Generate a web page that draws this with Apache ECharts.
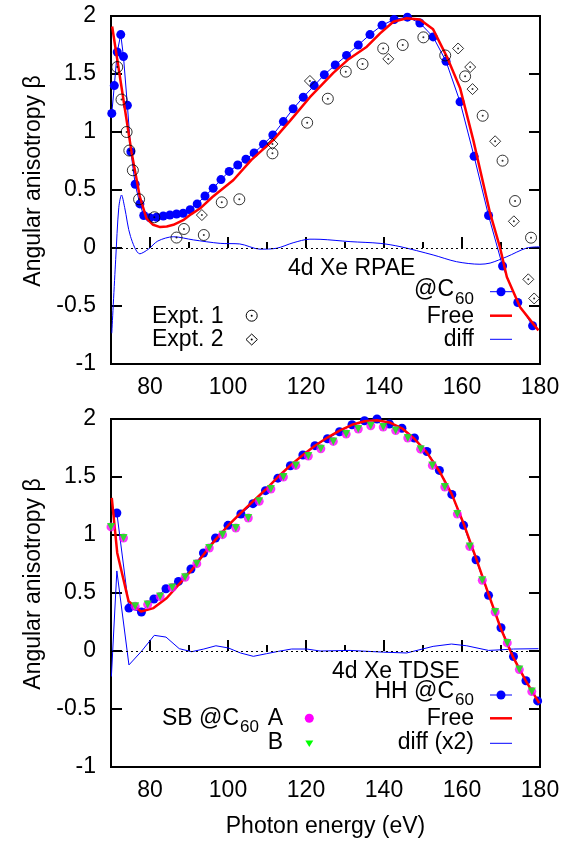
<!DOCTYPE html>
<html><head><meta charset="utf-8">
<script src="https://cdn.jsdelivr.net/npm/echarts@6/dist/echarts.min.js"></script>
<style>html,body{margin:0;padding:0;background:#fff}#c{width:576px;height:841px}</style>
</head><body><div id="c"></div>
<script>
// ---------- DATA ----------
const xMajorTicks = [80, 100, 120, 140, 160, 180];
const xMinorTicks = [90, 110, 130, 150, 170];

// Top panel: 4d Xe RPAE
const rpaeC60E = [70.2,70.85,71.6,72.5,73.2,74.2,75.1,76.2,77.4,78.4,80.0,81.7,83.4,85.1,86.8,88.5,90.3,92.1,94.1,96.2,98.2,100.3,102.5,104.6,106.7,109.1,111.5,114.2,116.7,119.3,122.1,124.7,127.5,130.4,133.4,136.4,139.5,142.6,146.0,149.2,152.6,155.9,159.5,163.1,166.8,170.4,174.3,178.1];
const rpaeC60B = [1.16,1.40,1.69,1.84,1.65,1.23,0.83,0.55,0.38,0.28,0.26,0.265,0.276,0.284,0.293,0.30,0.33,0.38,0.448,0.515,0.59,0.66,0.716,0.765,0.82,0.894,0.974,1.09,1.20,1.30,1.40,1.494,1.578,1.66,1.75,1.84,1.92,1.97,1.99,1.94,1.82,1.61,1.26,0.79,0.28,-0.155,-0.47,-0.67];
const rpaeFreeE = [70.3,71.9,73.6,75.3,77.4,79.1,80.8,82.6,84.3,86.0,88.5,90.5,92.8,96.0,101.4,106.0,111.6,116.0,121.0,127.0,131.0,135.6,139.0,142.4,145.8,149.2,152.6,156.1,159.5,162.9,167.2,169.7,171.5,174.9,179.6];
const rpaeFreeB = [1.91,1.56,1.19,0.82,0.44,0.256,0.20,0.18,0.185,0.20,0.24,0.29,0.34,0.44,0.586,0.76,0.93,1.10,1.30,1.51,1.63,1.735,1.85,1.95,1.98,1.97,1.885,1.65,1.38,0.93,0.30,0.01,-0.25,-0.51,-0.71];
const rpaeDiffE = [70.2,71.2,72.0,72.7,73.5,75.0,77.4,79.6,82.0,86.0,91.1,98.0,103.0,108.2,112.5,116.7,121.0,123.6,131.3,139.0,144.1,152.6,158.6,164.6,167.2,171.5,176.6,180.0];
const rpaeDiffB = [-0.735,-0.10,0.35,0.457,0.35,0.10,-0.05,-0.01,0.06,0.097,0.07,0.04,0.035,-0.01,-0.002,0.045,0.076,0.075,0.055,0.04,0.012,-0.06,-0.118,-0.14,-0.13,-0.075,0.0,0.01];
const expt1E = [71.6,72.7,74.0,74.7,75.6,77.2,81.1,86.8,88.7,93.8,98.4,102.9,111.4,120.3,125.6,130.2,134.5,139.8,144.8,150.1,155.7,160.8,165.3,170.4,173.6,177.7];
const expt1B = [1.56,1.28,1.00,0.84,0.67,0.42,0.265,0.09,0.164,0.112,0.394,0.42,0.816,1.08,1.287,1.52,1.586,1.72,1.75,1.816,1.66,1.48,1.14,0.753,0.405,0.089];
const expt2E = [93.3,111.4,121.0,141.1,159.0,162.1,162.7,168.5,173.3,177.0,178.5];
const expt2B = [0.284,0.897,1.44,1.63,1.72,1.56,1.37,0.92,0.23,-0.27,-0.435];

// Bottom panel: 4d Xe TDSE
const hhC60E = [71.5,74.6,77.8,81.0,84.1,87.3,90.5,93.7,96.8,100.0,103.3,106.4,109.6,112.8,116.0,119.2,122.3,125.5,128.6,131.8,135.0,138.2,141.4,144.6,147.8,151.0,154.2,157.4,160.4,163.6,166.8,170.0,173.2,176.4,179.4];
const hhC60B = [1.19,0.37,0.336,0.448,0.537,0.60,0.707,0.845,0.974,1.083,1.181,1.27,1.382,1.49,1.597,1.69,1.77,1.83,1.89,1.95,1.985,2.0,1.957,1.92,1.836,1.72,1.557,1.35,1.083,0.787,0.48,0.20,-0.047,-0.256,-0.43];
const tdseFreeE = [70.2,71.6,74.5,77.7,80.9,84.3,87.3,90.5,93.7,96.8,100.0,103.3,106.4,109.6,112.8,116.0,119.2,122.3,125.5,128.6,131.8,135.0,138.2,141.4,144.6,147.8,151.0,154.2,157.4,160.4,163.6,166.8,170.0,173.2,176.4,179.8];
const tdseFreeB = [1.32,0.845,0.43,0.34,0.37,0.457,0.57,0.69,0.83,0.96,1.08,1.19,1.29,1.39,1.50,1.60,1.69,1.77,1.84,1.90,1.95,1.98,1.99,1.97,1.92,1.83,1.71,1.55,1.35,1.10,0.80,0.49,0.19,-0.06,-0.26,-0.45];
const tdseDiffE = [70.1,71.5,74.6,77.8,81.1,84.1,87.5,90.7,93.8,96.9,100.1,103.2,106.5,109.9,112.9,116.3,120.2,123.6,131.3,139.8,145.8,152.6,157.3,161.2,166.8,169.8,173.2,179.6];
const tdseDiffB = [-0.22,0.69,-0.12,-0.003,0.135,0.12,0.02,-0.006,0.017,0.045,0.026,-0.017,-0.046,-0.023,-0.003,0.017,0.017,0.0,0.005,-0.01,-0.017,0.04,0.06,0.045,0.005,0.01,0.017,0.02];
const sbE  = [70.0,73.2,76.2,79.4,82.6,85.7,89.0,92.0,95.2,98.6,102.0,105.2,108.0,111.0,114.2,117.4,120.6,123.8,127.0,130.3,133.4,136.6,139.8,143.0,146.1,149.4,152.4,155.6,158.8,162.0,165.2,168.5,171.6,174.7,177.9];
const sbAB = [1.07,0.974,0.385,0.40,0.47,0.548,0.635,0.753,0.888,1.003,1.06,1.147,1.29,1.397,1.50,1.60,1.68,1.744,1.807,1.87,1.914,1.942,1.93,1.90,1.836,1.74,1.60,1.414,1.18,0.90,0.61,0.336,0.07,-0.16,-0.35];
const sbBB = [1.07,0.974,0.385,0.40,0.47,0.548,0.635,0.753,0.888,1.003,1.06,1.147,1.29,1.397,1.50,1.60,1.68,1.744,1.807,1.87,1.914,1.942,1.93,1.90,1.836,1.74,1.60,1.414,1.18,0.90,0.61,0.336,0.07,-0.16,-0.35];

// ---------- CHART ----------
const FONT = "'Liberation Sans', Arial, Helvetica, sans-serif";
const FS = 23;
const pairs = (xs, ys) => xs.map((x, i) => [x, ys[i]]);

function xAxes(g, major, withName) {
  const ax = {
    type: 'value', gridIndex: g, min: 70, max: 180, position: 'bottom',
    axisLine: {show: false}, splitLine: {show: false},
    axisTick: {show: true, inside: true, length: major ? 11 : 6,
      lineStyle: {color: '#000', width: 2}, customValues: major ? xMajorTicks : xMinorTicks},
    axisLabel: {show: major, customValues: xMajorTicks, fontSize: FS, color: '#000', margin: 12, fontFamily: FONT}
  };
  if (withName) {
    ax.name = 'Photon energy (eV)';
    ax.nameLocation = 'middle';
    ax.nameGap = 48;
    ax.nameTextStyle = {fontSize: FS, color: '#000', fontFamily: FONT};
  }
  return ax;
}
function yAxes(g, left) {
  const ax = {
    type: 'value', gridIndex: g, min: -1, max: 2, interval: 0.5, position: left ? 'left' : 'right',
    axisLine: {show: false}, splitLine: {show: false},
    axisTick: {show: true, inside: true, length: 11, lineStyle: {color: '#000', width: 2}},
    axisLabel: {show: left, fontSize: FS, color: '#000', margin: 15, fontFamily: FONT}
  };
  if (left) {
    ax.name = 'Angular anisotropy \u03b2';
    ax.nameLocation = 'middle';
    ax.nameGap = 66;
    ax.nameTextStyle = {fontSize: FS, color: '#000', fontFamily: FONT, padding: [0, 0, 0, 18]};
  }
  return ax;
}

const zeroLine = {
  silent: true, symbol: ['none', 'none'], label: {show: false},
  lineStyle: {color: '#000', type: [2, 3], width: 1},
  data: [{yAxis: 0}]
};
const blue = '#0000ff', red = '#ff0000';

const series = [
  // top
  {type: 'line', xAxisIndex: 0, yAxisIndex: 0, data: pairs(rpaeDiffE, rpaeDiffB), smooth: 0.3,
   symbol: 'none', lineStyle: {color: blue, width: 1}, itemStyle: {color: blue}, markLine: zeroLine, z: 2},
  {type: 'line', xAxisIndex: 0, yAxisIndex: 0, data: pairs(rpaeC60E, rpaeC60B),
   symbol: 'circle', symbolSize: 9, lineStyle: {color: blue, width: 1}, itemStyle: {color: blue}, z: 3},
  {type: 'line', xAxisIndex: 0, yAxisIndex: 0, data: pairs(rpaeFreeE, rpaeFreeB),
   symbol: 'none', lineStyle: {color: red, width: 2.5}, itemStyle: {color: red}, z: 4},
  {type: 'scatter', xAxisIndex: 0, yAxisIndex: 0, data: pairs(expt1E, expt1B), symbol: 'circle', symbolSize: 11,
   itemStyle: {color: 'rgba(0,0,0,0)', borderColor: '#000', borderWidth: 1}, z: 5},
  {type: 'scatter', xAxisIndex: 0, yAxisIndex: 0, data: pairs(expt1E, expt1B), symbol: 'circle', symbolSize: 2,
   itemStyle: {color: '#000'}, z: 5},
  {type: 'scatter', xAxisIndex: 0, yAxisIndex: 0, data: pairs(expt2E, expt2B), symbol: 'diamond', symbolSize: 11,
   itemStyle: {color: 'rgba(0,0,0,0)', borderColor: '#000', borderWidth: 1}, z: 5},
  {type: 'scatter', xAxisIndex: 0, yAxisIndex: 0, data: pairs(expt2E, expt2B), symbol: 'circle', symbolSize: 2,
   itemStyle: {color: '#000'}, z: 5},
  // bottom
  {type: 'line', xAxisIndex: 2, yAxisIndex: 2, data: pairs(tdseDiffE, tdseDiffB),
   symbol: 'none', lineStyle: {color: blue, width: 1}, itemStyle: {color: blue}, markLine: zeroLine, z: 2},
  {type: 'line', xAxisIndex: 2, yAxisIndex: 2, data: pairs(hhC60E, hhC60B),
   symbol: 'circle', symbolSize: 9, lineStyle: {color: blue, width: 1}, itemStyle: {color: blue}, z: 3},
  {type: 'line', xAxisIndex: 2, yAxisIndex: 2, data: pairs(tdseFreeE, tdseFreeB),
   symbol: 'none', lineStyle: {color: red, width: 2.5}, itemStyle: {color: red}, z: 4},
  {type: 'scatter', xAxisIndex: 2, yAxisIndex: 2, data: pairs(sbE, sbAB), symbol: 'circle', symbolSize: 9,
   itemStyle: {color: '#ff00ff'}, z: 5},
  {type: 'scatter', xAxisIndex: 2, yAxisIndex: 2, data: pairs(sbE, sbBB), symbol: 'triangle', symbolRotate: 180, symbolSize: 8,
   itemStyle: {color: '#00ff00'}, z: 6}
];

function txt(x, y, s, align, size) {
  return {type: 'text', x: x, y: y, z: 100,
    style: {text: s, textAlign: align || 'left', textVerticalAlign: 'middle', fontSize: size || FS, fontFamily: FONT, fill: '#000'}};
}
function hline(x1, x2, y, color, w) {
  return {type: 'line', z: 100, shape: {x1: x1, y1: y, x2: x2, y2: y}, style: {stroke: color, lineWidth: w}};
}
function dot(x, y, r, color) {
  return {type: 'circle', z: 101, shape: {cx: x, cy: y, r: r}, style: {fill: color}};
}

const graphic = [
  // top legend
  txt(288, 269, '4d Xe RPAE'),
  txt(454, 290, '@C', 'right'), txt(474, 299, '60', 'right', 17),
  hline(490, 512, 291.7, blue, 1), dot(501, 291.7, 4.5, blue),
  txt(474, 317, 'Free', 'right'), hline(490, 512, 315.7, red, 2.5),
  txt(474, 340, 'diff', 'right'), hline(490, 512, 339.3, blue, 1),
  txt(152, 316.5, 'Expt. 1'),
  {type: 'circle', z: 101, shape: {cx: 251.7, cy: 315.7, r: 5.5}, style: {fill: 'none', stroke: '#000', lineWidth: 1}},
  dot(251.7, 315.7, 1, '#000'),
  txt(152, 340, 'Expt. 2'),
  {type: 'polygon', z: 101, shape: {points: [[251.7, 334], [257.4, 339.5], [251.7, 345], [246, 339.5]]}, style: {fill: 'none', stroke: '#000', lineWidth: 1}},
  dot(251.7, 339.5, 1, '#000'),
  // bottom legend
  txt(332, 671.5, '4d Xe TDSE'),
  txt(454, 691.5, 'HH @C', 'right'), txt(474, 700.5, '60', 'right', 17),
  hline(490, 512, 695, blue, 1), dot(501, 695, 4.5, blue),
  txt(474, 718.5, 'Free', 'right'), hline(490, 512, 718.3, red, 2.5),
  txt(474, 743, 'diff (x2)', 'right'), hline(490, 512, 743.3, blue, 1),
  txt(239, 718.5, 'SB @C', 'right'), txt(240, 727.5, '60', 'left', 17), txt(283, 718.5, 'A', 'right'),
  txt(283, 743, 'B', 'right'),
  dot(309.3, 718.3, 4.5, '#ff00ff'),
  {type: 'polygon', z: 101, shape: {points: [[305.3, 740.5], [313.3, 740.5], [309.3, 747]]}, style: {fill: '#00ff00'}}
];

const chart = echarts.init(document.getElementById('c'), null, {renderer: 'canvas'});
chart.setOption({
  backgroundColor: '#fff',
  animation: false,
  grid: [
    {left: 111, top: 16, width: 429, height: 348, show: true, borderColor: '#000', borderWidth: 2, backgroundColor: 'transparent'},
    {left: 111, top: 419, width: 429, height: 348, show: true, borderColor: '#000', borderWidth: 2, backgroundColor: 'transparent'}
  ],
  xAxis: [xAxes(0, true, false), xAxes(0, false, false), xAxes(1, true, true), xAxes(1, false, false)],
  yAxis: [yAxes(0, true), yAxes(0, false), yAxes(1, true), yAxes(1, false)],
  series: series,
  graphic: graphic
});
</script>
</body></html>
